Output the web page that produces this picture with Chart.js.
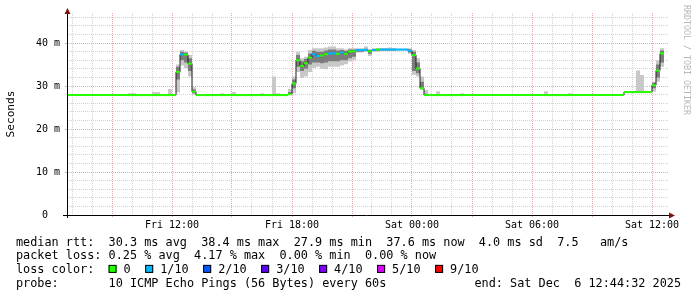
<!DOCTYPE html>
<html>
<head>
<meta charset="utf-8">
<script src="https://cdn.jsdelivr.net/npm/chart.js@4.4.1/dist/chart.umd.min.js"></script>
<style>
  html, body { margin: 0; padding: 0; background: #fff; }
</style>
</head>
<body>
<canvas id="smokeChart" width="697" height="297"></canvas>
<script>
// step start times, hours since Fri 00:00
const stepStart = [
  6.75, 9.8, 10.2, 11.0, 11.4, 11.8, 12.0, 12.2, 12.4, 12.6,
  12.8, 13.0, 13.2, 14.4, 14.6, 15.0, 15.2, 16.4, 16.6, 17.0,
  17.2, 17.4, 17.8, 18.0, 18.2, 18.4, 18.6, 18.8, 19.0, 19.2,
  19.4, 19.6, 19.8, 20.0, 20.2, 20.4, 20.6, 20.8, 21.0, 21.2,
  21.4, 21.6, 21.8, 22.0, 22.2, 22.4, 22.6, 22.8, 23.0, 23.2,
  23.8, 24.0, 24.2, 24.4, 24.6, 24.8, 25.2, 25.4, 26.4, 26.6,
  30.6, 30.8, 31.8, 32.0, 34.6, 35.2, 35.4, 35.6, 36.0, 36.2,
  36.4
];
const stepEnd = 36.6;

// median rtt in ms
const medianRtt = [
  27.9, 27.9, 27.9, 27.9, 27.9, 27.9, 27.9, 33.3, 37.4, 37.3,
  35.2, 28.7, 27.9, 27.9, 27.9, 27.9, 27.9, 27.9, 27.9, 27.9,
  27.9, 27.9, 28.1, 30.6, 36.0, 34.7, 35.3, 36.6, 37.4, 37.0,
  37.1, 37.4, 37.6, 37.6, 37.5, 37.8, 37.5, 38.0, 38.1, 38.4,
  38.4, 38.4, 38.1, 38.4, 38.5, 38.5, 38.5, 38.5, 38.5, 38.5,
  38.2, 37.2, 34.1, 29.5, 27.9, 27.9, 27.9, 27.9, 27.9, 27.9,
  27.9, 27.9, 27.9, 27.9, 28.6, 28.6, 28.6, 28.6, 30.2, 33.6,
  37.6
];

// index into lossColors
const lossLevel = [
  0, 0, 0, 0, 0, 0, 0, 0, 1, 0,
  0, 0, 0, 0, 0, 0, 0, 0, 0, 0,
  0, 0, 0, 0, 0, 0, 0, 0, 1, 1,
  0, 0, 1, 1, 0, 1, 0, 0, 0, 1,
  1, 1, 0, 1, 0, 1, 1, 1, 1, 1,
  1, 0, 0, 0, 0, 0, 0, 0, 0, 0,
  0, 0, 0, 0, 0, 0, 0, 0, 0, 0,
  0
];

// outer smoke (all pings)
const smokeLow = [
  27.9, 27.9, 27.9, 27.9, 27.9, 27.9, 27.9, 28.5, 34.8, 34.2,
  32.2, 28.0, 27.9, 27.9, 27.9, 27.9, 27.9, 27.9, 27.9, 27.9,
  27.9, 27.9, 27.9, 28.3, 33.3, 31.9, 32.2, 33.3, 34.2, 34.5,
  34.0, 33.9, 34.5, 34.5, 34.5, 34.8, 35.1, 35.7, 36.0, 37.8,
  37.8, 38.0, 37.0, 38.0, 38.0, 38.2, 38.2, 38.2, 38.2, 38.3,
  37.5, 32.6, 32.2, 29.1, 27.9, 27.9, 27.9, 27.9, 27.9, 27.9,
  27.9, 27.9, 27.9, 27.9, 28.5, 28.5, 28.5, 28.5, 28.7, 31.0,
  34.5
];
const smokeHigh = [
  28.0, 28.3, 28.0, 28.6, 28.0, 29.3, 28.0, 35.0, 38.4, 38.0,
  37.2, 29.7, 28.0, 28.3, 28.0, 28.6, 28.0, 28.3, 28.0, 32.2,
  28.3, 28.0, 29.3, 32.2, 38.0, 36.5, 36.8, 38.4, 38.8, 38.8,
  38.8, 39.0, 39.2, 39.2, 38.8, 38.8, 38.5, 38.8, 38.8, 38.8,
  38.8, 39.2, 38.6, 38.8, 38.8, 38.8, 38.8, 39.0, 38.8, 38.7,
  38.8, 38.4, 36.5, 32.2, 29.1, 28.0, 28.8, 28.0, 28.3, 28.0,
  28.8, 28.0, 28.3, 28.0, 28.7, 33.6, 32.6, 28.7, 31.0, 36.0,
  38.8
];

// inner smoke (middle pings)
const coreLow = [
  27.9, 27.9, 27.9, 27.9, 27.9, 27.9, 27.9, 31.5, 36.0, 35.5,
  33.5, 28.3, 27.9, 27.9, 27.9, 27.9, 27.9, 27.9, 27.9, 27.9,
  27.9, 27.9, 28.0, 29.5, 34.5, 33.5, 34.0, 35.0, 35.5, 35.5,
  35.3, 35.5, 35.8, 35.8, 35.8, 36.0, 36.0, 36.5, 36.8, 38.0,
  38.0, 38.2, 37.5, 38.2, 38.2, 38.3, 38.3, 38.3, 38.3, 38.4,
  37.8, 33.5, 33.0, 29.3, 27.9, 27.9, 27.9, 27.9, 27.9, 27.9,
  27.9, 27.9, 27.9, 27.9, 28.6, 28.6, 28.6, 28.6, 29.5, 32.0,
  35.5
];
const coreHigh = [
  27.9, 27.9, 27.9, 27.9, 27.9, 27.9, 27.9, 34.5, 38.0, 37.8,
  36.5, 29.2, 27.9, 27.9, 27.9, 27.9, 27.9, 27.9, 27.9, 27.9,
  27.9, 27.9, 28.6, 31.5, 37.2, 35.8, 36.3, 37.6, 38.2, 38.0,
  38.0, 38.3, 38.5, 38.5, 38.3, 38.4, 38.2, 38.5, 38.5, 38.6,
  38.6, 38.7, 38.4, 38.6, 38.7, 38.7, 38.7, 38.7, 38.7, 38.6,
  38.5, 38.0, 35.5, 31.0, 28.2, 27.9, 27.9, 27.9, 27.9, 27.9,
  27.9, 27.9, 27.9, 27.9, 28.6, 28.6, 28.6, 28.6, 30.8, 35.0,
  38.3
];

const lossLabels = ['0', '1/10', '2/10', '3/10', '4/10', '5/10', '9/10'];
const lossColors = ['#26ff00', '#00b8ff', '#0059ff', '#5e00ff', '#7e00ff', '#dd00ff', '#ff0000'];

const xTickHours = [12, 18, 24, 30, 36];
const xTickText = ['Fri 12:00', 'Fri 18:00', 'Sat 00:00', 'Sat 06:00', 'Sat 12:00'];

const legendRows = [
  'median rtt:  30.3 ms avg  38.4 ms max  27.9 ms min  37.6 ms now  4.0 ms sd  7.5   am/s',
  'packet loss: 0.25 % avg  4.17 % max  0.00 % min  0.00 % now',
  'loss color:',
  'probe:       10 ICMP Echo Pings (56 Bytes) every 60s'
];
const endStamp = 'end: Sat Dec  6 12:44:32 2025';

const majorGrid = '#e4a8a8';
const minorGrid = '#d2d2d2';
const monoFont = '"DejaVu Sans Mono", monospace';

function stepped(vals) {
  const pts = stepStart.map((t, i) => ({ x: t, y: vals[i] }));
  pts.push({ x: stepEnd, y: vals[vals.length - 1] });
  return pts;
}

// horizontal pieces only, separated by gaps
const lossPts = [];
stepStart.forEach((t, i) => {
  const t1 = i + 1 < stepStart.length ? stepStart[i + 1] : stepEnd;
  lossPts.push({ x: t, y: medianRtt[i] }, { x: t1, y: medianRtt[i] }, { x: t1, y: null });
});

const rrdDecor = {
  id: 'rrdDecor',
  afterDraw(chart) {
    const { ctx, chartArea: a } = chart;
    ctx.save();

    // axes
    ctx.strokeStyle = '#000';
    ctx.lineWidth = 1;
    ctx.beginPath();
    ctx.moveTo(a.left - 4, a.bottom + 0.5);
    ctx.lineTo(a.right + 1, a.bottom + 0.5);
    ctx.moveTo(a.left + 0.5, a.bottom + 3);
    ctx.lineTo(a.left + 0.5, a.top);
    ctx.stroke();

    ctx.fillStyle = '#7f1010';
    ctx.beginPath();
    ctx.moveTo(a.left + 0.5, a.top - 5);
    ctx.lineTo(a.left - 2.5, a.top + 1);
    ctx.lineTo(a.left + 3.5, a.top + 1);
    ctx.closePath();
    ctx.fill();
    ctx.beginPath();
    ctx.moveTo(a.right + 6, a.bottom + 0.5);
    ctx.lineTo(a.right, a.bottom - 2.5);
    ctx.lineTo(a.right, a.bottom + 3.5);
    ctx.closePath();
    ctx.fill();

    // legend text
    const cw = 7.12;
    const x0 = 16;
    const base = [245.5, 259.2, 272.9, 286.6];
    ctx.font = '11.83px ' + monoFont;
    ctx.fillStyle = '#000';
    ctx.textBaseline = 'alphabetic';
    ctx.textAlign = 'left';
    legendRows.forEach((row, i) => ctx.fillText(row, x0, base[i]));

    let sx = x0 + 13 * cw;
    lossLabels.forEach((lab, i) => {
      ctx.fillStyle = lossColors[i];
      ctx.fillRect(sx, base[2] - 8, 8, 8);
      ctx.strokeStyle = '#000';
      ctx.strokeRect(sx + 0.5, base[2] - 7.5, 7, 7);
      ctx.fillStyle = '#000';
      ctx.fillText(lab, sx + 15, base[2]);
      sx += 15 + lab.length * cw + 14.5;
    });

    ctx.textAlign = 'right';
    ctx.fillText(endStamp, 681, base[3]);

    // watermark
    ctx.translate(686.5, 5);
    ctx.rotate(Math.PI / 2);
    ctx.font = '8.3px ' + monoFont;
    ctx.fillStyle = '#b8b8b8';
    ctx.textAlign = 'left';
    ctx.textBaseline = 'middle';
    ctx.fillText('RRDTOOL / TOBI OETIKER', 0, 0);
    ctx.restore();
  }
};

new Chart(document.getElementById('smokeChart'), {
  type: 'line',
  data: {
    datasets: [
      { data: stepped(smokeLow), stepped: true, borderWidth: 0, borderColor: 'rgba(0,0,0,0)', fill: false, order: 5 },
      { data: stepped(smokeHigh), stepped: true, borderWidth: 0, borderColor: 'rgba(0,0,0,0)', fill: '-1', backgroundColor: '#c8c8c8', order: 4 },
      { data: stepped(coreLow), stepped: true, borderWidth: 0, borderColor: 'rgba(0,0,0,0)', fill: false, order: 3 },
      { data: stepped(coreHigh), stepped: true, borderWidth: 0, borderColor: 'rgba(0,0,0,0)', fill: '-1', backgroundColor: '#7c7c7c', order: 2 },
      { data: stepped(medianRtt), stepped: true, borderWidth: 1, borderColor: '#202020', fill: false, order: 1 },
      {
        data: lossPts, borderWidth: 2, borderColor: lossColors[0], fill: false, spanGaps: false, order: 0,
        segment: { borderColor: c => lossColors[lossLevel[Math.floor(c.p0DataIndex / 3)]] }
      }
    ]
  },
  options: {
    responsive: false,
    devicePixelRatio: 1,
    animation: false,
    layout: { padding: { left: 0, right: 28, top: 13, bottom: 0 } },
    elements: { point: { radius: 0, hoverRadius: 0 }, line: { tension: 0, borderCapStyle: 'butt' } },
    plugins: { legend: { display: false }, tooltip: { enabled: false } },
    scales: {
      x: {
        type: 'linear',
        min: 6.75,
        max: 36.85,
        afterFit: s => { s.height = 82; },
        ticks: {
          stepSize: 1,
          includeBounds: false,
          autoSkip: false,
          maxRotation: 0,
          padding: 2,
          color: '#000',
          font: { family: monoFont, size: 10 },
          callback: v => {
            const k = xTickHours.indexOf(v);
            return k < 0 ? '' : xTickText[k];
          }
        },
        grid: {
          color: c => (c.tick && c.tick.value % 3 === 0 ? majorGrid : minorGrid),
          tickColor: c => (c.tick && c.tick.value % 3 === 0 ? majorGrid : 'rgba(0,0,0,0)'),
          tickLength: 2,
          lineWidth: 1
        },
        border: { display: false, dash: [1, 1] }
      },
      y: {
        min: 0,
        max: 47,
        afterFit: s => { s.width = 67; },
        ticks: {
          stepSize: 2,
          includeBounds: false,
          autoSkip: false,
          padding: 5,
          color: '#000',
          font: { family: monoFont, size: 10 },
          callback: v => (v % 10 !== 0 ? '' : v === 0 ? '0  ' : v + ' m')
        },
        grid: {
          color: c => (c.tick && c.tick.value % 10 === 0 ? majorGrid : minorGrid),
          tickColor: c => (c.tick && c.tick.value % 10 === 0 ? majorGrid : 'rgba(0,0,0,0)'),
          tickLength: 2,
          lineWidth: 1
        },
        border: { display: false, dash: [1, 1] },
        title: {
          display: true,
          text: 'Seconds',
          color: '#000',
          font: { family: monoFont, size: 11.2 },
          padding: { top: 4, bottom: 0 }
        }
      }
    }
  },
  plugins: [rrdDecor]
});
</script>
</body>
</html>
